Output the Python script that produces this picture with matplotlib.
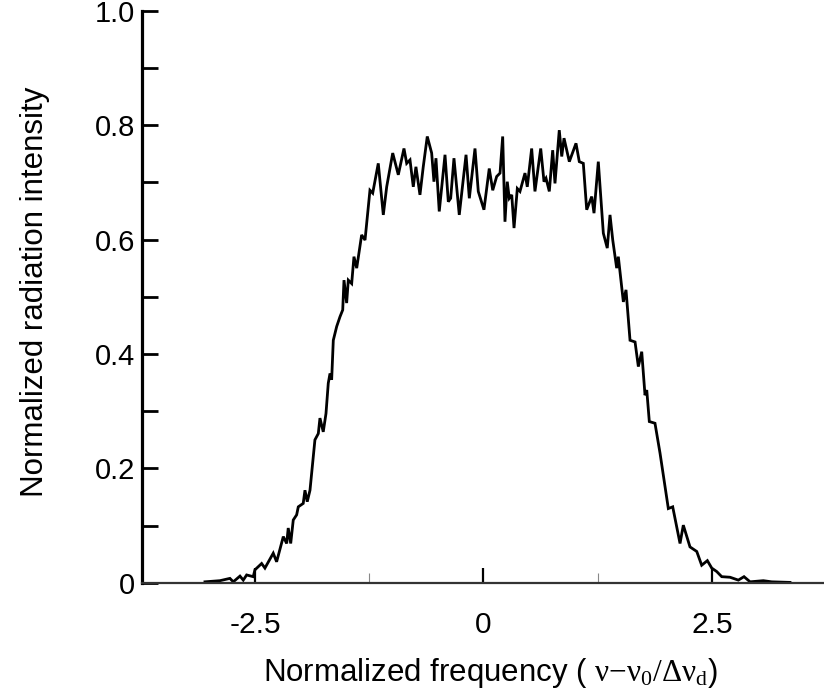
import numpy as np
import matplotlib
matplotlib.use("Agg")
import matplotlib.pyplot as plt
from matplotlib.ticker import FixedLocator, NullFormatter

plt.rcParams['font.family'] = ['Liberation Sans', 'DejaVu Sans']
plt.rcParams['mathtext.fontset'] = 'custom'
plt.rcParams['mathtext.rm'] = 'Liberation Serif'
plt.rcParams['mathtext.it'] = 'Liberation Serif'

# spectrum (normalized frequency, intensity)
freq = [-3.047, -2.883, -2.774, -2.737, -2.664, -2.628, -2.591, -2.519, -2.500,
        -2.427, -2.391, -2.300, -2.263, -2.190, -2.153, -2.136, -2.109, -2.081,
        -2.044, -2.026, -1.972, -1.953, -1.928, -1.898, -1.844, -1.807, -1.789,
        -1.753, -1.723, -1.698, -1.679, -1.661, -1.643, -1.606, -1.570, -1.540,
        -1.526, -1.497, -1.479, -1.442, -1.417, -1.387, -1.333, -1.296, -1.242,
        -1.212, -1.151, -1.096, -1.059, -0.993, -0.932, -0.870, -0.840, -0.804,
        -0.768, -0.739, -0.695, -0.659, -0.615, -0.567, -0.542, -0.520, -0.484,
        -0.421, -0.385, -0.359, -0.323, -0.265, -0.191, -0.155, -0.093, -0.057,
        0.005, 0.063, 0.101, 0.144, 0.181, 0.210, 0.235, 0.260, 0.282, 0.309,
        0.334, 0.370, 0.399, 0.454, 0.479, 0.527, 0.563, 0.626, 0.662, 0.684,
        0.720, 0.757, 0.782, 0.829, 0.856, 0.881, 0.939, 1.012, 1.048, 1.092,
        1.129, 1.184, 1.209, 1.256, 1.311, 1.354, 1.384, 1.414, 1.457, 1.475,
        1.530, 1.559, 1.603, 1.658, 1.694, 1.731, 1.767, 1.786, 1.814, 1.876,
        1.931, 1.986, 2.022, 2.070, 2.150, 2.186, 2.259, 2.333, 2.387, 2.449,
        2.497, 2.551, 2.606, 2.697, 2.788, 2.850, 2.916, 3.061, 3.153, 3.353]
intensity = [0.002, 0.004, 0.008, 0.002, 0.012, 0.005, 0.014, 0.011, 0.023,
             0.034, 0.026, 0.052, 0.037, 0.081, 0.069, 0.096, 0.069, 0.110,
             0.119, 0.133, 0.139, 0.162, 0.142, 0.162, 0.250, 0.261, 0.288,
             0.264, 0.296, 0.349, 0.366, 0.355, 0.424, 0.448, 0.465, 0.477,
             0.529, 0.489, 0.529, 0.523, 0.570, 0.550, 0.608, 0.599, 0.686,
             0.681, 0.733, 0.643, 0.692, 0.751, 0.713, 0.759, 0.733, 0.739,
             0.692, 0.727, 0.678, 0.727, 0.780, 0.751, 0.701, 0.742, 0.649,
             0.748, 0.666, 0.672, 0.742, 0.643, 0.748, 0.672, 0.759, 0.684,
             0.652, 0.724, 0.686, 0.710, 0.716, 0.780, 0.631, 0.701, 0.672, 0.678,
             0.620, 0.689, 0.684, 0.716, 0.692, 0.759, 0.684, 0.759, 0.701, 0.707,
             0.684, 0.756, 0.698, 0.791, 0.745, 0.777, 0.736, 0.768, 0.736, 0.733,
             0.652, 0.675, 0.646, 0.736, 0.611, 0.585, 0.643, 0.599, 0.550, 0.570,
             0.491, 0.512, 0.424, 0.421, 0.378, 0.404, 0.328, 0.337, 0.282, 0.279,
             0.227, 0.168, 0.130, 0.133, 0.069, 0.101, 0.063, 0.055, 0.031, 0.039,
             0.026, 0.020, 0.011, 0.010, 0.005, 0.011, 0.002, 0.004, 0.002, 0.001]

xticks_major = [-2.5, 0, 2.5]
xtick_labels = ['-2.5', '0', '2.5']
xticks_minor = [-1.25, 1.25]
yticks_major = [0, 0.2, 0.4, 0.6, 0.8, 1.0]
ytick_labels = ['0', '0.2', '0.4', '0.6', '0.8', '1.0']
yticks_minor = [0.1, 0.3, 0.5, 0.7, 0.9]

fig = plt.figure(figsize=(8.24, 6.97), dpi=100)
ax = fig.add_axes([0.1723, 0.1636, 0.8277, 0.8213])

ax.plot(freq, intensity, color='black', lw=2.0, solid_joinstyle='miter')

ax.set_xlim(-3.736, 3.725)
ax.set_ylim(0, 1.0)

for s in ['top', 'right']:
    ax.spines[s].set_visible(False)
ax.spines['left'].set_linewidth(2.3)
ax.spines['left'].set_color('black')
ax.spines['bottom'].set_linewidth(1.6)
ax.spines['bottom'].set_color('#333333')

ax.xaxis.set_major_locator(FixedLocator(xticks_major))
ax.set_xticklabels(xtick_labels)
ax.xaxis.set_minor_locator(FixedLocator(xticks_minor))
ax.xaxis.set_minor_formatter(NullFormatter())
ax.yaxis.set_major_locator(FixedLocator(yticks_major))
ax.set_yticklabels(ytick_labels)
ax.yaxis.set_minor_locator(FixedLocator(yticks_minor))
ax.yaxis.set_minor_formatter(NullFormatter())

ax.tick_params(axis='x', which='major', direction='in', length=11, width=1.6,
               color='black', labelsize=21.5, pad=20)
ax.tick_params(axis='x', which='minor', direction='in', length=7, width=0.8,
               color='#888888')
ax.tick_params(axis='y', which='both', direction='in', length=11.5, width=2.0,
               color='black', labelsize=21, pad=5)

fig.text(0.595, 0.01, r"Normalized frequency ( $\mathrm{\nu{-}\nu_0/\Delta\nu_d}$)",
         ha='center', va='bottom', fontsize=22.5)
fig.text(0.042, 0.581, "Normalized radiation intensity", rotation=90,
         ha='center', va='center', fontsize=22.5)

fig.savefig('out.png', dpi=100)
